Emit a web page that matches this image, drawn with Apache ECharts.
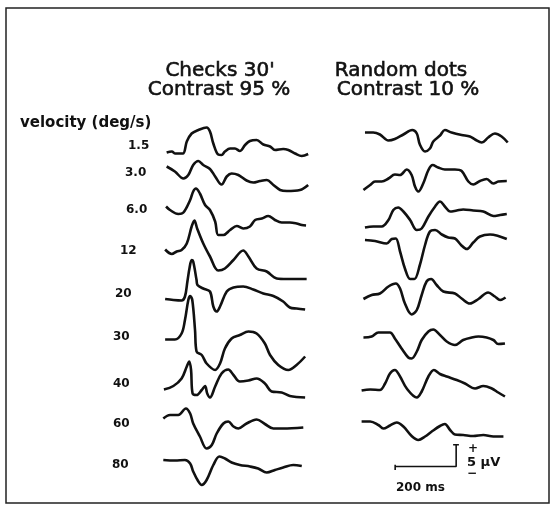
<!DOCTYPE html>
<html>
<head>
	<meta charset="utf-8">
</head>
<body style="margin: 0; background: #fff">
<div id="container" style="width: 556px; height: 510px"></div>
<script type="text/javascript" src="https://cdn.jsdelivr.net/npm/echarts@6/dist/echarts.min.js"></script>
<script type="text/javascript">
    // stimulus velocity (deg/s), one row per velocity
    var velocities = ['1.5', '3.0', '6.0', '12', '20', '30', '40', '60', '80'];

    // Checks 30', contrast 95 %  -> [time (ms), amplitude (µV)]
    var checks_1_5 = [[12, -0.1], [29, 0.1], [39, -0.3], [65, -0.3], [78, 2.1], [94, 3.7], [116, 4.4], [143, 4.9], [154, 4.1], [165, 1.7], [181, -0.5], [192, -0.6], [203, 0.1], [220, 0.7], [236, 0.7], [252, 0.2], [269, 1.4], [285, 2.2], [307, 2.4], [329, 1.5], [351, 1.1], [367, 0.4], [394, 0.6], [411, 0.4], [433, -0.3], [455, -0.8], [476, -0.4]];
    var checks_3_0 = [[12, 0.1], [39, -0.9], [67, -2.3], [83, -1.6], [99, 0.4], [116, 1.2], [132, 0.4], [154, -0.4], [171, -1.9], [192, -3.5], [209, -1.9], [225, -1.3], [247, -1.6], [274, -2.7], [296, -3.1], [318, -2.8], [340, -2.6], [362, -3.6], [384, -4.6], [406, -4.8], [449, -4.6], [476, -3.6]];
    var checks_6_0 = [[10, 0.1], [23, -0.6], [50, -1.4], [67, -1.1], [89, 1.4], [99, 3.1], [108, 3.7], [121, 2.7], [138, 0.4], [154, -0.6], [171, -2.9], [181, -5.6], [198, -5.6], [220, -4.6], [242, -3.8], [263, -4.3], [285, -3.9], [302, -2.6], [324, -2.3], [345, -1.8], [367, -2.6], [389, -3.1], [416, -3.1], [438, -3.3], [455, -3.6], [469, -3.7]];
    var checks_12 = [[7, -0.1], [29, -1.0], [45, -0.5], [61, -0.2], [78, 1.1], [94, 4.5], [103, 5.7], [112, 4.1], [132, 1.1], [154, -1.5], [181, -4.3], [203, -3.9], [231, -2.2], [263, -0.3], [280, -1.5], [307, -3.9], [340, -4.5], [373, -5.9], [406, -6.0], [471, -6.0]];
    var checks_20 = [[7, 0], [34, -0.2], [61, -0.3], [72, 0.5], [80, 3.5], [87, 6.2], [94, 7.8], [99, 7.5], [110, 3.8], [113, 2.8], [132, 2.1], [154, 1.5], [165, -1.5], [176, -2.5], [187, -1.5], [209, 1.5], [231, 2.3], [263, 2.5], [296, 1.9], [329, 1.1], [362, 0.6], [394, -0.5], [416, -1.7], [438, -1.9], [466, -2.1]];
    var checks_30 = [[7, -0.1], [39, -0.1], [61, 1.1], [72, 3.8], [83, 7.8], [89, 8.6], [96, 7.8], [105, 1.8], [110, -2.5], [127, -3.2], [143, -4.9], [171, -6.2], [187, -4.9], [203, -1.9], [225, 0.1], [252, 0.8], [280, 1.5], [307, 1.1], [334, -0.9], [351, -3.2], [378, -5.2], [411, -6.2], [438, -5.2], [466, -3.5]];
    var checks_40 = [[3, -0.1], [34, 0.6], [61, 2.1], [78, 4.5], [86, 5.5], [92, 3.8], [97, -0.9], [110, -1.2], [127, -0.2], [138, 0.6], [145, -0.9], [154, -1.7], [171, 0.5], [192, 3.1], [214, 3.9], [231, 2.8], [252, 1.5], [280, 1.7], [307, 2.1], [334, 1.1], [356, -0.5], [389, -0.7], [416, -1.4], [466, -1.7]];
    var checks_60 = [[1, -0.1], [23, 0.6], [50, 0.6], [75, 1.9], [89, 0.9], [99, -1.1], [121, -3.7], [143, -6.1], [160, -5.4], [176, -3.1], [198, -1.1], [214, -0.7], [231, -1.7], [247, -2.1], [274, -1.1], [307, -0.3], [334, -1.2], [362, -2.1], [394, -2.1], [460, -1.9]];
    var checks_80 = [[1, 0], [39, -0.1], [72, 0], [89, -0.7], [99, -2.3], [116, -4.3], [127, -5.0], [143, -4.0], [165, -1.0], [185, 0.7], [203, 0.3], [225, -0.5], [252, -1.0], [285, -1.3], [312, -1.7], [340, -2.5], [367, -2.0], [394, -1.5], [427, -1.0], [455, -1.2]];

    // Random dots, contrast 10 %  -> [time (ms), amplitude (µV)]
    var dots_1_5 = [[13, -0.1], [40, -0.1], [62, -0.5], [90, -1.7], [111, -1.4], [139, -0.5], [168, 0.4], [183, -0.3], [193, -2.5], [210, -3.9], [226, -3.3], [237, -1.9], [259, -0.7], [275, 0.4], [297, -0.1], [330, -0.6], [357, -0.9], [374, -1.5], [396, -2.1], [417, -1.1], [439, -0.3], [461, -0.9], [481, -2.1]];
    var dots_3_0 = [[8, 0], [30, 1.0], [46, 1.7], [68, 1.7], [90, 2.3], [111, 3.1], [128, 3.0], [150, 4.1], [166, 3.0], [177, 0.7], [188, -0.3], [204, 1.3], [221, 4.0], [235, 5.0], [253, 4.5], [275, 4.1], [308, 4.1], [330, 3.8], [352, 1.7], [368, 1.1], [390, 1.8], [412, 2.2], [434, 1.3], [450, 1.7], [478, 1.8]];
    var dots_6_0 = [[13, -0.1], [40, 0.1], [68, 0.1], [90, 1.4], [106, 3.4], [122, 3.9], [139, 3.1], [161, 1.4], [183, -0.6], [199, -0.3], [221, 2.1], [243, 4.1], [259, 5.1], [275, 4.1], [292, 3.1], [314, 3.3], [335, 3.5], [368, 3.3], [401, 3.1], [434, 2.2], [456, 2.4], [478, 2.6]];
    var dots_12 = [[13, 0], [46, -0.2], [84, -0.7], [101, 0.2], [114, 0.3], [128, -2.3], [144, -5.7], [161, -7.8], [175, -7.8], [193, -5.0], [210, -1.0], [226, 1.7], [243, 2.0], [265, 1.1], [286, 0.5], [308, 0.3], [328, -1.0], [347, -1.8], [368, -0.5], [390, 0.7], [423, 1.1], [450, 0.8], [478, 0.2]];
    var dots_20 = [[8, 0], [35, 0.8], [62, 1.1], [90, 2.5], [114, 3.1], [128, 2.1], [144, -0.9], [166, -3.1], [183, -2.2], [199, 0.8], [215, 3.5], [230, 4.0], [248, 2.8], [270, 1.5], [308, 1.1], [330, 0.1], [357, -0.9], [385, 0], [417, 1.3], [439, 0.5], [456, -0.2], [474, 0.3]];
    var dots_30 = [[8, -0.1], [35, 0.1], [57, 0.9], [95, 0.9], [111, -0.3], [133, -2.3], [155, -4.1], [166, -4.3], [183, -2.9], [199, -0.6], [221, 1.1], [237, 1.5], [259, 0.4], [281, -0.9], [308, -1.6], [335, -0.6], [363, -0.1], [385, 0.1], [412, -0.1], [434, -0.6], [450, -1.4], [472, -1.3]];
    var dots_40 = [[2, -0.1], [30, 0.1], [62, 0], [79, 1.3], [95, 3.3], [111, 4.0], [128, 2.7], [150, 0.3], [183, -1.5], [199, -0.3], [221, 2.7], [239, 4.0], [259, 3.2], [281, 2.7], [314, 2.0], [341, 1.3], [374, 0.3], [401, 0.8], [429, 0.3], [450, -0.5], [472, -1.3]];
    var dots_60 = [[2, 0.1], [30, 0.1], [57, -0.6], [73, -1.3], [95, -0.7], [117, -0.1], [139, -0.9], [166, -2.8], [188, -3.6], [210, -2.9], [232, -1.9], [259, -0.8], [275, -0.4], [292, -1.6], [308, -2.5], [335, -2.6], [368, -2.8], [401, -2.6], [434, -2.9], [467, -2.9]];

    var checks = [checks_1_5, checks_3_0, checks_6_0, checks_12, checks_20, checks_30, checks_40, checks_60, checks_80];
    var dots = [dots_1_5, dots_3_0, dots_6_0, dots_12, dots_20, dots_30, dots_40, dots_60];

    // calibration bar
    var scaleMs = 200;
    var scaleUv = 5;

    // layout (pixels)
    var checksLeft = 163, dotsLeft = 361;
    var checksBase = [152, 167, 207, 249, 299, 339, 389, 418, 460];
    var dotsBase = [132, 190, 227, 240, 299, 337, 390, 422];
    var labelX = [128, 125, 126, 120, 115, 113, 113, 113, 112];
    var labelY = [146, 173, 210, 251, 294, 337, 384, 424, 465];
    var pxPerMs = 61 / 200, pxPerUv = 5, msMax = 480;

    var dom = document.getElementById('container');
    var myChart = echarts.init(dom);

    var grids = [], xAxes = [], yAxes = [], series = [];

    function addGrid(left, base) {
        var i = grids.length;
        grids.push({left: left, top: base - 10 * pxPerUv, width: msMax * pxPerMs, height: 20 * pxPerUv});
        xAxes.push({type: 'value', gridIndex: i, min: 0, max: msMax, show: false});
        yAxes.push({type: 'value', gridIndex: i, min: -10, max: 10, show: false});
        return i;
    }

    function addTrace(left, base, data) {
        var i = addGrid(left, base);
        series.push({
            type: 'line', xAxisIndex: i, yAxisIndex: i, data: data,
            smooth: 0.35, symbol: 'none', clip: false, silent: true,
            lineStyle: {color: '#111', width: 2.6}
        });
    }

    checks.forEach(function (d, k) { addTrace(checksLeft, checksBase[k], d); });
    dots.forEach(function (d, k) { addTrace(dotsLeft, dotsBase[k], d); });

    // calibration bar: 200 ms horizontal, 5 µV vertical
    var barEnd = 312, barIdx = addGrid(dotsLeft, 473);
    var barStyle = {color: '#111', width: 1.6};
    [
        [[barEnd - scaleMs, 0], [barEnd, 0], [barEnd, scaleUv]],
        [[barEnd - scaleMs, -0.8], [barEnd - scaleMs, 0.4]],
        [[barEnd - 10, scaleUv], [barEnd + 9, scaleUv]]
    ].forEach(function (d) {
        series.push({
            type: 'line', xAxisIndex: barIdx, yAxisIndex: barIdx, data: d,
            symbol: 'none', clip: false, silent: true, lineStyle: barStyle
        });
    });

    // headings: regular face thickened a little to match the scanned print
    function heading(x, y, t) {
        return {type: 'text', x: x, y: y, style: {
            text: t, font: 'normal 20px "DejaVu Sans"', fill: '#111',
            stroke: '#111', lineWidth: 0.6, textAlign: 'center', textVerticalAlign: 'middle'
        }};
    }
    var lab = 'bold 12px "DejaVu Sans"';
    var graphics = [
        {type: 'rect', shape: {x: 6, y: 8, width: 543, height: 495}, style: {fill: 'none', stroke: '#222', lineWidth: 1.5}},
        heading(220, 71, "Checks 30'"),
        heading(219, 90, 'Contrast 95 %'),
        heading(401, 71, 'Random dots'),
        heading(408, 90, 'Contrast 10 %'),
        {type: 'text', x: 20, y: 123, style: {text: 'velocity (deg/s)', font: 'bold 15px "DejaVu Sans"', fill: '#111', textAlign: 'left', textVerticalAlign: 'middle'}},
        {type: 'text', x: 468, y: 449, style: {text: '+', font: lab, fill: '#111', textAlign: 'left', textVerticalAlign: 'middle'}},
        {type: 'text', x: 467, y: 463, style: {text: scaleUv + ' µV', font: 'bold 13px "DejaVu Sans"', fill: '#111', textAlign: 'left', textVerticalAlign: 'middle'}},
        {type: 'text', x: 467, y: 474, style: {text: '−', font: lab, fill: '#111', textAlign: 'left', textVerticalAlign: 'middle'}},
        {type: 'text', x: 396, y: 488, style: {text: scaleMs + ' ms', font: lab, fill: '#111', textAlign: 'left', textVerticalAlign: 'middle'}}
    ];
    velocities.forEach(function (v, k) {
        graphics.push({type: 'text', x: labelX[k], y: labelY[k], style: {text: v, font: lab, fill: '#111', textAlign: 'left', textVerticalAlign: 'middle'}});
    });

    var option = {
        backgroundColor: '#fff',
        animation: false,
        grid: grids,
        xAxis: xAxes,
        yAxis: yAxes,
        series: series,
        graphic: graphics
    };
    myChart.setOption(option, true);
</script>
</body>
</html>
